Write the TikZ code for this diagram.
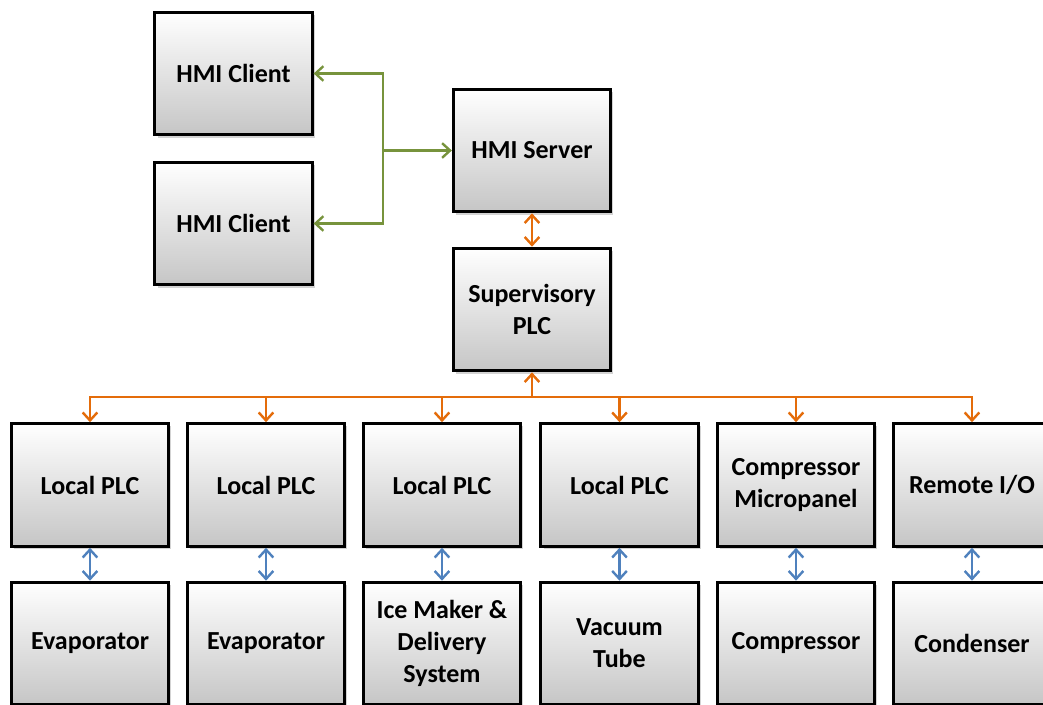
\documentclass[tikz,border=0pt]{standalone}
\usepackage{fontspec}
\setmainfont{Carlito}
\usepackage{tikz}
\usetikzlibrary{positioning,arrows.meta,shadows}
\definecolor{hmigreen}{RGB}{119,147,60}
\definecolor{busorange}{RGB}{228,108,10}
\definecolor{linkblue}{RGB}{79,129,189}

\begin{document}
\begin{tikzpicture}[
    x=0.75pt, y=-0.75pt,
    >={Straight Barb[length=6pt, width=11pt]},
    font=\bfseries\fontsize{19.5}{24}\selectfont,
    unit/.style={draw=black, line width=2.2pt, align=center,
        minimum width=118pt, minimum height=92pt, inner sep=2pt,
        top color=white, bottom color=gray!45,
        drop shadow={shadow xshift=2pt, shadow yshift=-2pt, opacity=0.35}},
    greenlink/.style={draw=hmigreen, line width=1.8pt},
    buslink/.style={draw=busorange, line width=1.8pt},
    fieldlink/.style={draw=linkblue, line width=1.8pt, <->}
]
\useasboundingbox (0,0) rectangle (1043,704);

% operator level
\node[unit] (client1) at (233.5,73.5) {HMI Client};
\node[unit] (client2) at (233.5,223.5) {HMI Client};
\node[unit] (server) at (532,150.5) {HMI Server};
\node[unit] (super) at (532,309.5) {Supervisory\\PLC};

\coordinate (hmijoin) at (383,150.5);
\draw[greenlink, ->] (hmijoin) -- (server.west);
\draw[greenlink, ->] (hmijoin) |- (client1.east);
\draw[greenlink, ->] (hmijoin) |- (client2.east);
\draw[buslink, <->] (server) -- (super);

% control level
\node[unit] (plc1) at (90,485) {Local PLC};
\node[unit] (plc2) at (266,485) {Local PLC};
\node[unit] (plc3) at (442,485) {Local PLC};
\node[unit] (plc4) at (619.5,485) {Local PLC};
\node[unit] (micro) at (796,485) {Compressor\\Micropanel};
\node[unit] (rio) at (972,485) {Remote I/O};

\coordinate (busjoin) at (532,397);
\draw[buslink, <-] (super.south) -- (busjoin);
\foreach \n in {plc1,plc2,plc3,plc4,micro,rio}
    \draw[buslink, ->] (busjoin) -| (\n.north);

% equipment level
\node[unit] (evap1) at (90,643.5) {Evaporator};
\node[unit] (evap2) at (266,643.5) {Evaporator};
\node[unit] (ice) at (442,643.5) {Ice Maker \&\\Delivery\\System};
\node[unit] (vacuum) at (619.5,643.5) {Vacuum\\Tube};
\node[unit] (comp) at (796,643.5) {Compressor};
\node[unit] (cond) at (972,643.5) {Condenser};

\draw[fieldlink] (plc1) -- (evap1);
\draw[fieldlink] (plc2) -- (evap2);
\draw[fieldlink] (plc3) -- (ice);
\draw[fieldlink] (plc4) -- (vacuum);
\draw[fieldlink] (micro) -- (comp);
\draw[fieldlink] (rio) -- (cond);
\end{tikzpicture}
\end{document}
